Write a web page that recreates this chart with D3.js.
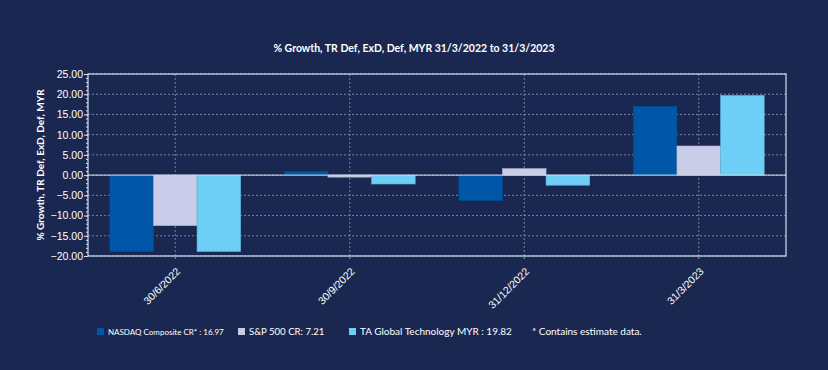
<!DOCTYPE html>
<html>
<head>
<meta charset="utf-8">
<script src="https://cdn.jsdelivr.net/npm/d3@7"></script>
<style>
  body { margin: 0; background: #1a2851; }
  svg { display: block; font-family: Lato, "Open Sans", sans-serif; }
</style>
</head>
<body>
<div id="chart"></div>
<script>
var categories = ["30/6/2022", "30/9/2022", "31/12/2022", "31/3/2023"];
var seriesNames = ["NASDAQ Composite CR* : 16.97", "S&P 500 CR: 7.21", "TA Global Technology MYR : 19.82"];
var nasdaq = [-18.9, 0.9, -6.3, 17.0];
var sp500 = [-12.5, -0.5, 1.6, 7.2];
var taGlobal = [-18.9, -2.2, -2.5, 19.7];
var yTicks = [-20, -15, -10, -5, 0, 5, 10, 15, 20, 25];
var colors = ["#0057a8", "#c8cce8", "#6dcff6"];

var series = [nasdaq, sp500, taGlobal];

var margin = { top: 74, right: 42, bottom: 114, left: 88 };
var width = 828 - margin.left - margin.right;
var height = 370 - margin.top - margin.bottom;

var svgRoot = d3.select("#chart")
  .append("svg")
  .attr("width", 828)
  .attr("height", 370);

svgRoot.append("rect")
  .attr("width", 828).attr("height", 370)
  .attr("fill", "#1a2851");

svgRoot.append("text")
  .attr("x", 414).attr("y", 52)
  .attr("text-anchor", "middle")
  .attr("fill", "#ffffff")
  .attr("font-size", 10.5)
  .attr("font-weight", "bold")
  .text("% Growth, TR Def, ExD, Def, MYR 31/3/2022 to 31/3/2023");

var svg = svgRoot.append("g")
  .attr("transform", "translate(" + margin.left + "," + margin.top + ")");

var x = d3.scaleBand()
  .range([0, width])
  .domain(categories);

var x1 = d3.scaleBand()
  .domain(d3.range(series.length))
  .range([x.bandwidth() * 0.125, x.bandwidth() * 0.875]);

var y = d3.scaleLinear()
  .range([height, 0])
  .domain([-20, 25]);

// grid
svg.append("g")
  .selectAll("line")
  .data(yTicks)
  .enter().append("line")
  .attr("x1", 0).attr("x2", width)
  .attr("y1", d => y(d)).attr("y2", d => y(d))
  .attr("stroke", "#8f98b5")
  .attr("stroke-width", 0.8)
  .attr("stroke-dasharray", "2,2");

svg.append("g")
  .selectAll("line")
  .data(categories)
  .enter().append("line")
  .attr("x1", d => x(d) + x.bandwidth() / 2)
  .attr("x2", d => x(d) + x.bandwidth() / 2)
  .attr("y1", 0).attr("y2", height)
  .attr("stroke", "#8f98b5")
  .attr("stroke-width", 0.8)
  .attr("stroke-dasharray", "2,2");

// bars
series.forEach(function(vals, i) {
  svg.append("g")
    .selectAll("rect")
    .data(vals)
    .enter().append("rect")
    .attr("x", (d, j) => x(categories[j]) + x1(i))
    .attr("width", x1.bandwidth())
    .attr("y", d => y(Math.max(0, d)))
    .attr("height", d => Math.abs(y(d) - y(0)))
    .attr("fill", colors[i])
    .attr("stroke", d3.color(colors[i]).darker(0.4))
    .attr("stroke-width", 0.6);
});

// zero line
svg.append("line")
  .attr("x1", 0).attr("x2", width)
  .attr("y1", y(0)).attr("y2", y(0))
  .attr("stroke", "#d8e6f2")
  .attr("stroke-width", 1);

// frame
svg.append("rect")
  .attr("width", width).attr("height", height)
  .attr("fill", "none")
  .attr("stroke", "#cfe3f2")
  .attr("stroke-width", 1.2);

// y axis
var yAxis = d3.axisLeft(y)
  .tickValues(yTicks)
  .tickSize(4)
  .tickFormat(d3.format(".2f"));

var yg = svg.append("g").call(yAxis);
yg.select(".domain").remove();
yg.selectAll("line").attr("stroke", "#cfe3f2");
yg.selectAll("text")
  .attr("fill", "#ffffff")
  .attr("font-size", 10.5)
  .attr("x", -5);

var yMinor = d3.axisLeft(y)
  .tickValues(d3.range(-20, 25.1, 1))
  .tickSize(2)
  .tickFormat("");
var ym = svg.append("g").call(yMinor);
ym.select(".domain").remove();
ym.selectAll("line").attr("stroke", "#cfe3f2");

// x axis
var xAxis = d3.axisBottom(x).tickSize(3);
var xg = svg.append("g")
  .attr("transform", "translate(0," + height + ")")
  .call(xAxis);
xg.select(".domain").remove();
xg.selectAll("line").attr("stroke", "#8f98b5");
xg.selectAll("text")
  .attr("fill", "#ffffff")
  .attr("font-size", 10.5)
  .attr("text-anchor", "end")
  .attr("dx", "-0.7em")
  .attr("dy", "0.9em")
  .attr("transform", "rotate(-45)");

// y title
svgRoot.append("text")
  .attr("transform", "translate(44," + (margin.top + height / 2) + ") rotate(-90)")
  .attr("text-anchor", "middle")
  .attr("fill", "#ffffff")
  .attr("font-size", 10)
  .attr("font-weight", "bold")
  .text("% Growth, TR Def, ExD, Def, MYR");

// legend
var legendX = [97, 238, 349];
var legendSize = [8, 9.6, 10];
var legend = svgRoot.append("g");
seriesNames.forEach(function(name, i) {
  legend.append("rect")
    .attr("x", legendX[i]).attr("y", 328)
    .attr("width", 7).attr("height", 7)
    .attr("fill", colors[i]);
  legend.append("text")
    .attr("x", legendX[i] + 11).attr("y", 335)
    .attr("fill", "#ffffff")
    .attr("font-size", legendSize[i])
    .text(name);
});
legend.append("text")
  .attr("x", 532).attr("y", 335)
  .attr("fill", "#ffffff")
  .attr("font-size", 10)
  .text("* Contains estimate data.");
</script>
</body>
</html>
